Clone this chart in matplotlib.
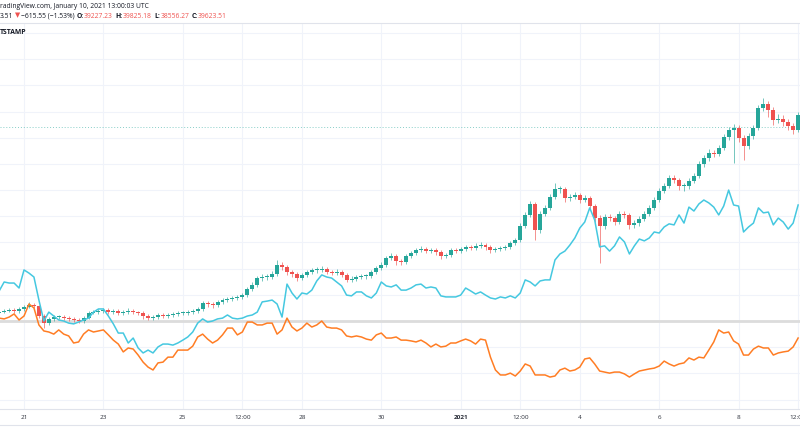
import matplotlib.pyplot as plt
import matplotlib.dates as mdates
from matplotlib.lines import Line2D
import numpy as np
import pandas as pd

plt.rcParams['font.family'] = ['Open Sans', 'DejaVu Sans']

# BTCUSD (Bitstamp) in percent mode, 3h candles starting Dec 20 09:00
start = '2020-12-20 09:00'
open0 = 3.0
close = [3.4, 3.8, 4.2, 3.8, 4.6, 5.3, 6.1, 5.7, 1.9, -0.8,
         0.8, 1.5, 1.5, 1.1, 0.8, 0.4, 0.0, 1.1, 3.1, 3.4,
         3.8, 4.2, 3.4, 3.8, 3.1, 3.4, 3.8, 3.4, 3.1, 1.9,
         1.1, 1.5, 2.3, 1.9, 2.3, 2.7, 3.1, 3.1, 3.4, 3.8,
         4.6, 6.9, 6.5, 6.1, 7.3, 8.0, 8.4, 8.8, 9.2, 9.9,
         12.2, 13.8, 16.4, 16.8, 16.8, 18.0, 21.4, 20.6, 18.7, 18.0,
         16.4, 17.6, 18.7, 19.5, 19.5, 19.9, 18.7, 18.3, 18.7, 17.6,
         15.7, 16.0, 16.8, 17.2, 17.2, 18.7, 20.2, 21.4, 24.1, 24.8,
         22.9, 22.5, 24.8, 26.0, 27.1, 27.5, 26.7, 27.1, 26.4, 24.8,
         25.2, 27.1, 26.7, 27.5, 28.3, 27.9, 28.7, 29.0, 28.3, 27.1,
         27.5, 27.9, 28.3, 29.8, 30.9, 36.3, 40.5, 44.7, 34.8, 40.9,
         43.2, 47.4, 50.4, 50.4, 47.0, 47.4, 48.1, 46.2, 47.0, 43.9,
         39.3, 36.3, 39.7, 39.3, 37.8, 40.9, 40.5, 36.7, 37.4, 39.0,
         40.9, 43.2, 46.2, 49.7, 51.6, 54.6, 53.9, 51.6, 51.6, 53.5,
         55.4, 60.0, 62.3, 64.2, 63.8, 66.1, 70.3, 72.9, 73.7, 69.9,
         66.9, 70.7, 73.7, 81.4, 82.9, 80.6, 76.8, 77.2, 76.0, 74.5,
         72.9, 78.7]
high = [4.1, 4.5, 5.0, 4.9, 5.3, 6.2, 7.3, 6.8, 6.3, 2.5,
        1.6, 2.4, 2.3, 2.2, 1.8, 1.5, 1.0, 1.8, 3.8, 4.3,
        4.5, 5.1, 4.9, 4.6, 4.4, 4.2, 4.8, 4.5, 4.0, 3.7,
        2.6, 2.3, 3.1, 3.0, 3.2, 3.4, 3.9, 3.9, 4.3, 4.5,
        5.4, 7.7, 7.6, 7.2, 8.2, 8.9, 9.2, 9.7, 10.0, 10.8,
        13.0, 14.8, 17.3, 17.9, 17.8, 19.0, 23.3, 22.6, 21.3, 19.6,
        18.8, 18.4, 19.6, 20.4, 20.5, 20.9, 20.6, 19.5, 19.8, 19.4,
        18.2, 17.0, 17.6, 18.0, 18.1, 19.5, 21.0, 22.4, 25.0, 26.0,
        25.5, 23.6, 25.6, 26.9, 28.0, 28.6, 28.3, 28.0, 27.9, 27.0,
        26.0, 28.0, 27.9, 28.4, 29.2, 29.0, 29.6, 30.0, 29.8, 28.9,
        28.4, 28.8, 29.1, 30.6, 31.8, 37.4, 41.6, 46.0, 45.6, 42.0,
        44.3, 48.5, 52.7, 51.6, 51.3, 48.6, 49.3, 49.0, 48.1, 47.8,
        44.6, 40.4, 40.8, 40.9, 40.1, 42.0, 42.1, 41.2, 38.6, 40.0,
        41.9, 44.2, 47.3, 50.8, 52.8, 55.7, 55.8, 54.8, 52.8, 54.6,
        56.5, 61.2, 63.5, 65.5, 65.4, 67.4, 71.5, 74.2, 75.3, 74.8,
        70.9, 71.9, 74.9, 82.6, 85.0, 84.2, 81.9, 78.9, 78.5, 77.1,
        75.6, 79.8]
low = [2.4, 2.9, 3.3, 3.2, 3.1, 4.0, 4.8, 4.9, 1.0, -2.7,
       -1.6, 0.1, 0.6, 0.3, -0.1, -0.5, -0.9, -0.6, 0.6, 2.5,
       2.8, 3.2, 2.6, 2.7, 2.3, 2.4, 2.7, 2.6, 2.2, 0.9,
       0.2, 0.3, 0.8, 1.0, 1.3, 1.6, 2.0, 2.3, 2.4, 2.8,
       3.1, 4.0, 5.4, 4.9, 5.3, 6.5, 7.1, 7.6, 8.0, 8.4,
       9.3, 11.4, 13.0, 15.2, 15.6, 16.0, 17.3, 19.5, 17.6, 16.9,
       15.3, 15.6, 16.9, 18.0, 18.4, 18.8, 17.8, 17.4, 17.5, 16.7,
       14.8, 14.9, 15.2, 16.0, 16.2, 16.5, 18.0, 19.5, 20.8, 23.3,
       21.5, 21.3, 21.9, 24.0, 25.2, 26.3, 25.8, 26.0, 25.3, 23.5,
       23.9, 24.5, 25.9, 26.0, 26.9, 27.1, 27.0, 28.0, 27.2, 26.0,
       26.4, 26.9, 27.3, 27.6, 29.1, 30.2, 35.4, 39.8, 30.9, 33.6,
       40.0, 42.4, 46.6, 49.0, 45.5, 45.9, 46.5, 45.0, 45.3, 42.6,
       37.8, 22.2, 35.0, 38.0, 36.6, 36.9, 39.4, 35.3, 35.6, 36.4,
       38.1, 40.0, 42.4, 45.3, 48.7, 50.7, 52.6, 50.2, 49.8, 50.5,
       52.6, 54.6, 59.0, 61.0, 62.5, 62.9, 65.2, 69.0, 60.4, 68.5,
       61.5, 65.6, 69.6, 72.8, 80.2, 78.0, 75.0, 75.6, 74.6, 73.0,
       71.6, 72.0]

# compared symbols, percent change on the same scale
cyan_pct = [11.5, 14.9, 14.5, 14.5, 12.6, 19.5, 18.3, 16.8, 8.0, 0.0,
            3.4, 1.9, 0.4, 0.0, -0.8, -1.1, -0.4, 0.4, 1.1, 3.4,
            4.6, 4.6, 1.9, -1.1, -4.6, -4.6, -8.4, -6.5, -10.3, -12.2,
            -11.1, -12.2, -9.9, -8.8, -8.8, -9.2, -8.4, -7.3, -6.1, -4.2,
            -0.8, 0.8, -0.4, 0.0, 0.8, 1.1, 2.3, 1.1, 0.8, 1.1,
            1.9, 2.3, 3.4, 7.3, 7.6, 8.0, 6.5, 1.5, 14.1, 10.7,
            8.4, 10.7, 10.3, 11.8, 15.3, 17.6, 16.8, 16.4, 14.9, 13.4,
            9.9, 9.6, 11.1, 11.1, 9.6, 8.8, 10.7, 14.9, 13.4, 13.0,
            13.8, 11.8, 11.8, 12.6, 13.8, 14.1, 12.6, 13.0, 12.6, 9.6,
            9.2, 9.2, 9.2, 9.9, 12.6, 11.5, 10.3, 11.1, 9.9, 8.8,
            8.4, 9.2, 8.8, 9.6, 8.8, 10.7, 15.7, 14.9, 13.4, 15.3,
            15.7, 15.7, 23.3, 25.6, 26.7, 29.0, 31.7, 35.5, 37.8, 43.2,
            38.6, 28.3, 28.7, 26.7, 28.7, 32.1, 30.2, 25.6, 28.7, 31.3,
            30.6, 31.7, 34.0, 33.6, 35.9, 37.1, 36.7, 40.5, 37.4, 43.5,
            42.0, 44.7, 46.2, 45.1, 43.5, 40.5, 43.9, 50.0, 44.3, 43.9,
            34.0, 35.9, 37.4, 43.2, 41.3, 41.6, 36.7, 39.3, 37.8, 35.1,
            37.4, 44.3]
orange_pct = [1.1, 0.8, 1.5, 2.7, 0.4, 1.9, 6.5, 5.0, -1.5, -3.8,
              -4.2, -5.0, -3.4, -5.0, -5.7, -8.4, -8.0, -5.0, -3.4, -4.2,
              -3.8, -3.4, -5.3, -7.3, -8.8, -11.8, -10.3, -10.7, -13.0, -15.7,
              -17.6, -18.7, -16.0, -15.7, -13.8, -13.8, -11.1, -11.1, -11.1, -9.6,
              -6.1, -5.0, -6.9, -8.4, -7.3, -5.3, -2.7, -2.7, -5.3, -4.2,
              -0.4, -0.4, -1.5, -1.5, -0.8, -0.8, -5.0, -3.4, 1.1, -2.3,
              -3.8, -2.7, -0.8, -2.3, -1.5, 0.0, -2.3, -2.7, -2.7, -3.4,
              -5.7, -6.1, -5.7, -6.1, -6.9, -7.3, -5.3, -4.6, -6.5, -6.5,
              -6.1, -7.3, -7.3, -7.6, -8.0, -7.3, -8.4, -9.9, -8.8, -9.9,
              -9.6, -8.4, -8.4, -7.6, -6.9, -7.6, -8.8, -6.9, -7.3, -13.8,
              -18.7, -20.6, -20.6, -19.9, -21.0, -19.1, -16.4, -17.2, -20.6, -20.6,
              -20.6, -21.4, -21.0, -18.7, -18.0, -19.1, -18.7, -17.6, -14.5, -14.1,
              -16.4, -19.1, -19.5, -19.9, -19.5, -19.5, -20.2, -21.4, -20.2, -19.1,
              -18.7, -18.3, -18.0, -17.2, -15.3, -16.4, -17.2, -16.4, -16.0, -14.1,
              -14.9, -13.8, -14.1, -11.1, -8.0, -3.4, -4.6, -4.2, -7.6, -8.8,
              -13.0, -13.0, -10.7, -9.6, -10.3, -10.3, -13.0, -12.2, -11.8, -11.5,
              -9.9, -6.5]
last_price_pct = 74.1

tick_dates = ['2020-12-21 00:00', '2020-12-23 00:00', '2020-12-25 00:00', '2020-12-26 12:00',
              '2020-12-28 00:00', '2020-12-30 00:00', '2021-01-01 00:00', '2021-01-02 12:00',
              '2021-01-04 00:00', '2021-01-06 00:00', '2021-01-08 00:00', '2021-01-09 12:00']
tick_labels = ['21', '23', '25', '12:00', '28', '30', '2021', '12:00',
               '4', '6', '8', '12:00']

# build candles
close = np.array(close)
high = np.array(high)
low = np.array(low)
opens = np.r_[open0, close[:-1]]
times = pd.date_range(start, periods=len(close), freq='3h')
x = mdates.date2num(times)
up = close >= opens
cols = np.where(up, '#26a69a', '#ef5350')

fig = plt.figure(figsize=(8, 4.45), dpi=100)
ax = fig.add_axes([0, 36 / 445, 1, 386 / 445])

ax.set_xlim(mdates.date2num(pd.Timestamp('2020-12-20 09:29')),
            mdates.date2num(pd.Timestamp('2021-01-09 13:08')))
ax.set_ylim(-33.6, 113.8)

# grid
ticks_x = mdates.date2num(pd.to_datetime(tick_dates, format='%Y-%m-%d %H:%M'))
for gx in ticks_x:
    ax.axvline(gx, color='#f0f3fa', lw=0.8, zorder=0)
for gy in np.arange(-30, 120, 10):
    ax.axhline(gy, color='#f0f3fa', lw=0.8, zorder=0)

ax.axhline(0, color='#dcdcdc', lw=2.0, zorder=1)
ax.axhline(last_price_pct, color='#26a69a', lw=0.7, ls=(0, (1, 2)), alpha=0.55, zorder=1)

# candles
ax.vlines(x, low, high, colors=cols, lw=0.6, alpha=0.75, zorder=2)
body = np.maximum(np.abs(close - opens), 0.35)
ax.bar(x, body, bottom=np.minimum(close, opens), width=0.1, color=cols,
       linewidth=0, zorder=3)

# comparison lines
ax.plot(x, cyan_pct, color='#45c8e0', lw=1.1, zorder=4)
ax.plot(x, orange_pct, color='#ff7d24', lw=1.1, zorder=4)

ax.set_yticks([])
ax.set_xticks(ticks_x)
ax.set_xticklabels(tick_labels, fontsize=4.6, color='#2a2e39')
ax.get_xticklabels()[6].set_fontweight('bold')
ax.tick_params(axis='x', length=0, pad=4.2)
for s in ['left', 'right']:
    ax.spines[s].set_visible(False)
for s in ['top', 'bottom']:
    ax.spines[s].set_color('#e0e3eb')
    ax.spines[s].set_linewidth(0.8)

fig.add_artist(Line2D([0, 1], [1 - 425 / 445, 1 - 425 / 445],
                      transform=fig.transFigure, color='#e0e3eb', lw=0.8))

# header, pieces laid out one after another
dark = '#131722'
red = '#ef5350'
fs = 4.85
fig.text(0, 1 - 6 / 445, 'radingView.com, January 10, 2021 13:00:03 UTC',
         fontsize=fs, color=dark, va='center')
fig.text(0, 1 - 33 / 445, 'TSTAMP', fontsize=fs, color=dark,
         fontweight='bold', va='center')

pieces = [('3.51', dark, 'normal'), ('\u25bc', red, 'normal'),
          ('\u2212615.55 (\u22121.53%)', dark, 'normal'),
          ('O:', dark, 'bold'), ('39227.23', red, 'normal'),
          ('H:', dark, 'bold'), ('39825.18', red, 'normal'),
          ('L:', dark, 'bold'), ('38556.27', red, 'normal'),
          ('C:', dark, 'bold'), ('39623.51', red, 'normal')]
gaps = [1.2, 1.2, 2.0, 0.3, 2.5, 0.3, 2.5, 0.3, 2.5, 0.3, 0]
fig.canvas.draw()
rend = fig.canvas.get_renderer()
px = 0.0
for (s, c, w), g in zip(pieces, gaps):
    t = fig.text(px / 800, 1 - 16 / 445, s, fontsize=fs, color=c,
                 fontweight=w, va='center')
    px = t.get_window_extent(rend).x1 + g

fig.savefig('out.png', dpi=100)
